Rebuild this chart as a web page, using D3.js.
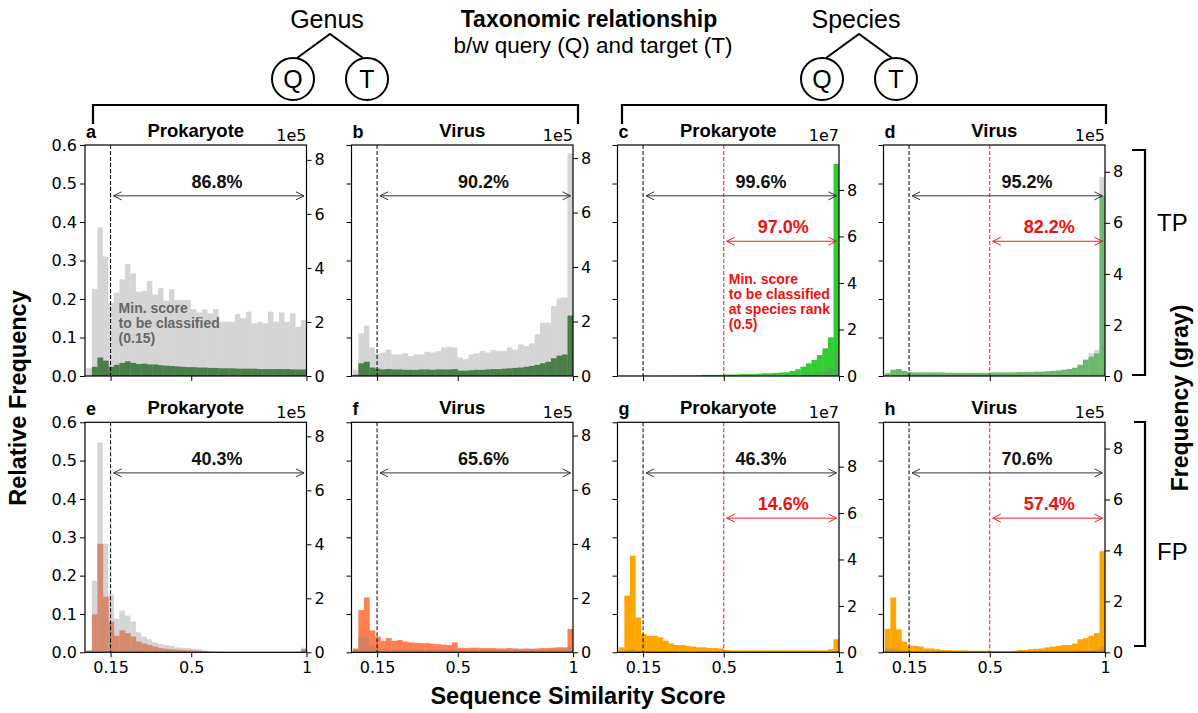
<!DOCTYPE html>
<html><head><meta charset="utf-8">
<script src="https://cdn.jsdelivr.net/npm/d3@7"></script>
<style>body{margin:0;background:#fff}</style>
</head><body><svg id="c" width="1198" height="713"></svg>
<script>
// ---------------- DATA ----------------
const panelIds = ['a','b','c','d','e','f','g','h'];
const panelTitles = ['Prokaryote','Virus','Prokaryote','Virus','Prokaryote','Virus','Prokaryote','Virus'];
const offsetLabels = ['1e5','1e5','1e7','1e5','1e5','1e5','1e7','1e5'];
const rightMax = [8.55, 8.48, 9.93, 9.05, 8.52, 8.49, 9.91, 9.03];
const leftTicks = [0, 0.1, 0.2, 0.3, 0.4, 0.5, 0.6];
const rightTicks = [0, 2, 4, 6, 8];
const xTicks = [0.15, 0.5, 1];
const xTickLabels = ['0.15', '0.5', '1'];
const binCount = 40, binFrom = 0.045, binTo = 1.0;
const blackPct = ['86.8%','90.2%','99.6%','95.2%','40.3%','65.6%','46.3%','70.6%'];
const redPct = [null, null, '97.0%','82.2%', null, null, '14.6%','57.4%'];
const minScore = 0.15, speciesScore = 0.5;

// relative frequency of colored histograms (left axis)
const colA = [0, 0.024, 0.048, 0.040, 0.024, 0.029, 0.034, 0.038, 0.034, 0.031, 0.032, 0.030, 0.030, 0.028, 0.027, 0.026, 0.025, 0.024, 0.023, 0.023, 0.022, 0.022, 0.021, 0.021, 0.020, 0.020, 0.020, 0.019, 0.019, 0.019, 0.019, 0.018, 0.018, 0.018, 0.018, 0.018, 0.018, 0.017, 0.017, 0.017];
const colB = [0.003, 0.033, 0.037, 0.022, 0.019, 0.017, 0.018, 0.017, 0.017, 0.016, 0.016, 0.016, 0.017, 0.017, 0.016, 0.017, 0.017, 0.017, 0.018, 0.014, 0.014, 0.015, 0.016, 0.016, 0.017, 0.018, 0.018, 0.019, 0.020, 0.021, 0.022, 0.024, 0.026, 0.029, 0.033, 0.037, 0.046, 0.053, 0.056, 0.157];
const colC = [0.0003, 0.0003, 0.0003, 0.0003, 0.0003, 0.0003, 0.0003, 0.0003, 0.0003, 0.0003, 0.0004, 0.0005, 0.0006, 0.001, 0.002, 0.003, 0.003, 0.003, 0.003, 0.004, 0.004, 0.004, 0.005, 0.005, 0.005, 0.006, 0.007, 0.007, 0.008, 0.009, 0.0096, 0.013, 0.0174, 0.024, 0.033, 0.0416, 0.0545, 0.072, 0.1005, 0.551];
const colD = [0.007, 0.016, 0.018, 0.013, 0.010, 0.009, 0.009, 0.009, 0.009, 0.009, 0.009, 0.008, 0.008, 0.008, 0.008, 0.008, 0.008, 0.008, 0.008, 0.009, 0.009, 0.009, 0.009, 0.009, 0.010, 0.010, 0.010, 0.011, 0.011, 0.012, 0.013, 0.014, 0.016, 0.018, 0.021, 0.029, 0.042, 0.050, 0.059, 0.468];
const colE = [0.004, 0.099, 0.283, 0.145, 0.080, 0.043, 0.057, 0.050, 0.041, 0.028, 0.023, 0.019, 0.015, 0.011, 0.009, 0.008, 0.007, 0.006, 0.005, 0.005, 0.004, 0.003, 0.002, 0.001, 0.001, 0.001, 0.001, 0.001, 0.001, 0.001, 0.001, 0.001, 0.001, 0.001, 0.001, 0.001, 0.001, 0.001, 0.001, 0.008];
const colF = [0.010, 0.110, 0.143, 0.057, 0.041, 0.030, 0.037, 0.030, 0.032, 0.028, 0.026, 0.025, 0.024, 0.024, 0.022, 0.021, 0.020, 0.019, 0.026, 0.012, 0.011, 0.012, 0.012, 0.011, 0.011, 0.011, 0.010, 0.010, 0.011, 0.010, 0.009, 0.010, 0.009, 0.010, 0.011, 0.011, 0.012, 0.013, 0.013, 0.061];
const colG = [0.013, 0.148, 0.252, 0.091, 0.048, 0.043, 0.043, 0.039, 0.030, 0.023, 0.019, 0.019, 0.017, 0.015, 0.013, 0.013, 0.011, 0.011, 0.010, 0.006, 0.005, 0.005, 0.005, 0.005, 0.005, 0.005, 0.005, 0.005, 0.005, 0.005, 0.005, 0.005, 0.005, 0.005, 0.005, 0.005, 0.005, 0.005, 0.008, 0.034];
const colH = [0.061, 0.143, 0.060, 0.028, 0.017, 0.017, 0.015, 0.010, 0.010, 0.008, 0.006, 0.006, 0.005, 0.005, 0.005, 0.004, 0.004, 0.004, 0.004, 0.003, 0.003, 0.003, 0.003, 0.004, 0.006, 0.006, 0.008, 0.009, 0.010, 0.013, 0.015, 0.017, 0.019, 0.019, 0.023, 0.034, 0.037, 0.043, 0.050, 0.264];

// frequency of gray histograms (right axis, in units of the offset label)
const grayA = [0.29, 3.22, 5.50, 4.42, 2.71, 3.09, 3.58, 4.15, 3.80, 3.12, 3.15, 3.52, 3.02, 3.25, 2.78, 3.21, 2.81, 2.81, 2.81, 2.47, 2.35, 2.47, 2.32, 2.47, 2.01, 2.01, 2.01, 2.29, 2.14, 2.38, 1.95, 2.01, 1.95, 2.38, 2.01, 2.35, 2.00, 2.32, 1.82, 2.07];
const grayB = [0.24, 1.57, 1.85, 1.05, 0.83, 0.86, 0.97, 0.79, 0.79, 0.83, 0.73, 0.79, 0.79, 0.89, 0.86, 0.92, 1.05, 1.07, 1.05, 0.68, 0.62, 0.79, 0.83, 0.92, 0.86, 0.95, 0.92, 0.92, 1.05, 0.97, 1.16, 1.10, 1.20, 1.53, 1.96, 1.96, 2.57, 2.85, 2.88, 8.17];
const grayC = [0.005, 0.005, 0.005, 0.005, 0.005, 0.005, 0.005, 0.005, 0.005, 0.005, 0.005, 0.005, 0.005, 0.01, 0.02, 0.02, 0.02, 0.02, 0.02, 0.02, 0.02, 0.02, 0.02, 0.02, 0.02, 0.02, 0.02, 0.03, 0.03, 0.03, 0.03, 0.04, 0.05, 0.07, 0.09, 0.12, 0.16, 0.22, 0.32, 0.99];
const grayD = [0.11, 0.25, 0.28, 0.20, 0.16, 0.14, 0.14, 0.14, 0.14, 0.14, 0.14, 0.125, 0.125, 0.125, 0.125, 0.125, 0.125, 0.125, 0.125, 0.14, 0.14, 0.14, 0.14, 0.14, 0.155, 0.155, 0.155, 0.17, 0.17, 0.19, 0.20, 0.22, 0.25, 0.28, 0.33, 0.45, 0.65, 0.89, 1.02, 7.79];
const grayE = [0.09, 2.64, 7.77, 4.02, 2.13, 1.24, 1.55, 1.36, 1.14, 0.74, 0.58, 0.48, 0.37, 0.31, 0.27, 0.23, 0.18, 0.17, 0.16, 0.13, 0.11, 0.07, 0.04, 0.03, 0.03, 0.01, 0.01, 0.01, 0.01, 0.01, 0.01, 0.01, 0.01, 0.01, 0.01, 0.01, 0.01, 0.01, 0.03, 0.17];
const grayF = [0.10, 0.55, 0.58, 0.27, 0.15, 0.12, 0.12, 0.12, 0.11, 0.11, 0.11, 0.11, 0.10, 0.10, 0.10, 0.10, 0.10, 0.10, 0.12, 0.09, 0.09, 0.09, 0.09, 0.09, 0.09, 0.09, 0.09, 0.09, 0.09, 0.09, 0.09, 0.09, 0.09, 0.09, 0.09, 0.10, 0.10, 0.10, 0.10, 0.21];
const grayG = [0.02, 0.10, 0.15, 0.06, 0.04, 0.03, 0.03, 0.03, 0.02, 0.02, 0.02, 0.02, 0.02, 0.02, 0.02, 0.02, 0.02, 0.02, 0.02, 0.02, 0.02, 0.02, 0.02, 0.02, 0.02, 0.02, 0.02, 0.02, 0.02, 0.02, 0.02, 0.02, 0.02, 0.02, 0.02, 0.02, 0.02, 0.02, 0.02, 0.05];
const grayH = [0.15, 0.15, 0.10, 0.06, 0.04, 0.04, 0.04, 0.03, 0.03, 0.03, 0.03, 0.03, 0.03, 0.03, 0.03, 0.04, 0.04, 0.04, 0.04, 0.04, 0.03, 0.03, 0.03, 0.03, 0.03, 0.03, 0.03, 0.03, 0.03, 0.03, 0.04, 0.04, 0.04, 0.04, 0.05, 0.06, 0.07, 0.08, 0.09, 0.22];

const coloredSeries = [colA, colB, colC, colD, colE, colF, colG, colH];
const graySeries = [grayA, grayB, grayC, grayD, grayE, grayF, grayG, grayH];
const barColors = ['#307f30', '#307f30', '#32cd32', '#64d464', '#ff9168', '#ff7f50', '#ffa500', '#ffa500'];

// ---------------- LAYOUT ----------------
const FONT = '"Liberation Sans", Arial, sans-serif';
const TICKFONT = '"DejaVu Sans", sans-serif';
const panelLeft = [85, 351.5, 617.5, 883.5];
const PW = 221.5;
const rowTop = [145, 422.3];
const PH = [231, 230];
const xDomain = [0.039, 1];
const binW = (binTo - binFrom) / binCount;
const binStarts = d3.range(binCount).map(k => binFrom + k * binW);

const svg = d3.select('#c');
const defs = svg.append('defs');

function arrow(g, x1, x2, y, color) {
  g.append('line').attr('x1', x1).attr('x2', x2).attr('y1', y).attr('y2', y)
    .attr('stroke', color).attr('stroke-width', 1);
  g.append('path').attr('d', `M${x1+8},${y-4} L${x1},${y} L${x1+8},${y+4}`)
    .attr('fill', 'none').attr('stroke', color).attr('stroke-width', 1);
  g.append('path').attr('d', `M${x2-8},${y-4} L${x2},${y} L${x2-8},${y+4}`)
    .attr('fill', 'none').attr('stroke', color).attr('stroke-width', 1);
}

panelIds.forEach((id, i) => {
  const row = Math.floor(i / 4), col = i % 4;
  const L = panelLeft[col], T = rowTop[row], H = PH[row];
  const g = svg.append('g');
  const x = d3.scaleLinear().domain(xDomain).range([L, L + PW]);
  const yL = d3.scaleLinear().domain([0, 0.6]).range([T + H, T]);
  const yR = d3.scaleLinear().domain([0, rightMax[i]]).range([T + H, T]);

  defs.append('clipPath').attr('id', 'clip' + id)
    .append('rect').attr('x', L).attr('y', T).attr('width', PW).attr('height', H);
  const bars = g.append('g').attr('clip-path', `url(#clip${id})`);
  bars.selectAll('rect.col').data(coloredSeries[i]).join('rect').attr('class', 'col')
    .attr('x', (d, k) => x(binStarts[k])).attr('width', (d, k) => x(binStarts[k] + binW) - x(binStarts[k]) + 0.3)
    .attr('y', d => yL(d)).attr('height', d => yL(0) - yL(d)).attr('fill', barColors[i]);
  bars.selectAll('rect.gray').data(graySeries[i]).join('rect').attr('class', 'gray')
    .attr('x', (d, k) => x(binStarts[k])).attr('width', (d, k) => x(binStarts[k] + binW) - x(binStarts[k]))
    .attr('y', d => yR(d)).attr('height', d => yR(0) - yR(d)).attr('fill', '#808080').attr('fill-opacity', 0.33);

  // threshold lines
  g.append('line').attr('x1', x(minScore)).attr('x2', x(minScore)).attr('y1', T).attr('y2', T + H)
    .attr('stroke', '#000').attr('stroke-width', 1).attr('stroke-dasharray', '4,2');
  if (redPct[i]) {
    g.append('line').attr('x1', x(speciesScore)).attr('x2', x(speciesScore)).attr('y1', T).attr('y2', T + H)
      .attr('stroke', '#d42020').attr('stroke-width', 1).attr('stroke-dasharray', '4,2');
  }

  // axes
  const axL = d3.axisLeft(yL).tickValues(leftTicks).tickSize(5).tickPadding(3)
    .tickFormat(col === 0 ? d3.format('.1f') : () => '');
  const axR = d3.axisRight(yR).tickValues(rightTicks).tickSize(5).tickPadding(3).tickFormat(d3.format('d'));
  const axB = d3.axisBottom(x).tickValues(xTicks).tickSize(5).tickPadding(4)
    .tickFormat((d, k) => row === 1 ? xTickLabels[k] : '');
  [[axL, `translate(${L},0)`], [axR, `translate(${L + PW},0)`], [axB, `translate(0,${T + H})`]].forEach(([ax, tr]) => {
    const a = g.append('g').attr('transform', tr).call(ax);
    a.select('.domain').remove();
    a.selectAll('line').attr('stroke', '#000').attr('stroke-width', 1);
    a.selectAll('text').attr('font-family', TICKFONT).attr('font-size', 16).attr('fill', '#000');
  });

  // frame
  g.append('rect').attr('x', L).attr('y', T).attr('width', PW).attr('height', H)
    .attr('fill', 'none').attr('stroke', '#000').attr('stroke-width', 1.2);

  // titles
  g.append('text').attr('x', L + 1).attr('y', T - 7).text(id)
    .attr('font-family', FONT).attr('font-weight', 'bold').attr('font-size', 18);
  g.append('text').attr('x', L + PW / 2).attr('y', T - 8).attr('text-anchor', 'middle').text(panelTitles[i])
    .attr('font-family', FONT).attr('font-weight', 'bold').attr('font-size', 18.5);
  g.append('text').attr('x', L + PW).attr('y', T - 4).attr('text-anchor', 'end').text(offsetLabels[i])
    .attr('font-family', TICKFONT).attr('font-size', 16);

  // percentage arrows
  const blackX = col < 2 ? 0.612 : 0.662;
  arrow(g, x(minScore) + 3, x(1) - 2.5, yL(0.468), '#333');
  g.append('text').attr('x', x(blackX)).attr('y', yL(0.468) - 8).attr('text-anchor', 'middle').text(blackPct[i])
    .attr('font-family', FONT).attr('font-weight', 'bold').attr('font-size', 18).attr('fill', '#111');
  if (redPct[i]) {
    arrow(g, x(speciesScore) + 3, x(1) - 2.5, yL(0.35), '#e8201c');
    g.append('text').attr('x', x(0.758)).attr('y', yL(0.35) - 8).attr('text-anchor', 'middle').text(redPct[i])
      .attr('font-family', FONT).attr('font-weight', 'bold').attr('font-size', 18).attr('fill', '#f01010');
  }

  // notes
  if (id === 'a') {
    const t = g.append('text').attr('font-family', FONT).attr('font-weight', 'bold').attr('font-size', 14).attr('fill', '#666');
    ['Min. score', 'to be classified', '(0.15)'].forEach((s, k) =>
      t.append('tspan').attr('x', x(minScore) + 8).attr('y', 313 + k * 15).text(s));
  }
  if (id === 'c') {
    const t = g.append('text').attr('font-family', FONT).attr('font-weight', 'bold').attr('font-size', 14).attr('fill', '#f01010');
    ['Min. score', 'to be classified', 'at species rank', '(0.5)'].forEach((s, k) =>
      t.append('tspan').attr('x', x(speciesScore) + 5).attr('y', 284 + k * 15).text(s));
  }
});

// ---------------- FIGURE-LEVEL ANNOTATIONS ----------------
function tree(cx, label) {
  const g = svg.append('g');
  g.append('text').attr('x', cx - 3).attr('y', 28).attr('text-anchor', 'middle').text(label)
    .attr('font-family', FONT).attr('font-size', 25);
  g.append('path').attr('d', `M${cx - 33},58 L${cx},34 L${cx + 33},58`).attr('fill', 'none')
    .attr('stroke', '#000').attr('stroke-width', 2);
  [['Q', cx - 37], ['T', cx + 37]].forEach(([s, c]) => {
    g.append('circle').attr('cx', c).attr('cy', 79).attr('r', 21).attr('fill', 'none')
      .attr('stroke', '#000').attr('stroke-width', 2);
    g.append('text').attr('x', c).attr('y', 88).attr('text-anchor', 'middle').text(s)
      .attr('font-family', FONT).attr('font-size', 25);
  });
}
tree(330, 'Genus');
tree(859, 'Species');
svg.append('text').attr('x', 589).attr('y', 27).attr('text-anchor', 'middle').text('Taxonomic relationship')
  .attr('font-family', FONT).attr('font-weight', 'bold').attr('font-size', 23);
svg.append('text').attr('x', 593).attr('y', 53).attr('text-anchor', 'middle').text('b/w query (Q) and target (T)')
  .attr('font-family', FONT).attr('font-size', 22.5);

// brackets
svg.append('path').attr('d', 'M93,124 V105 H578 V124').attr('fill', 'none').attr('stroke', '#000').attr('stroke-width', 2.2);
svg.append('path').attr('d', 'M622,124 V105 H1106 V124').attr('fill', 'none').attr('stroke', '#000').attr('stroke-width', 2.2);
svg.append('path').attr('d', 'M1132,150 H1145 V375 H1132').attr('fill', 'none').attr('stroke', '#000').attr('stroke-width', 2.2);
svg.append('path').attr('d', 'M1134,422 H1145 V646 H1134').attr('fill', 'none').attr('stroke', '#000').attr('stroke-width', 2.2);
svg.append('text').attr('x', 1157).attr('y', 231).text('TP').attr('font-family', FONT).attr('font-size', 24);
svg.append('text').attr('x', 1157).attr('y', 560).text('FP').attr('font-family', FONT).attr('font-size', 24);

svg.append('text').attr('transform', 'translate(26,398) rotate(-90)').attr('text-anchor', 'middle')
  .text('Relative Frequency').attr('font-family', FONT).attr('font-weight', 'bold').attr('font-size', 23.5);
svg.append('text').attr('transform', 'translate(1188,398) rotate(-90)').attr('text-anchor', 'middle')
  .text('Frequency (gray)').attr('font-family', FONT).attr('font-weight', 'bold').attr('font-size', 23);
svg.append('text').attr('x', 578).attr('y', 704).attr('text-anchor', 'middle')
  .text('Sequence Similarity Score').attr('font-family', FONT).attr('font-weight', 'bold').attr('font-size', 23.5);
</script></body></html>
